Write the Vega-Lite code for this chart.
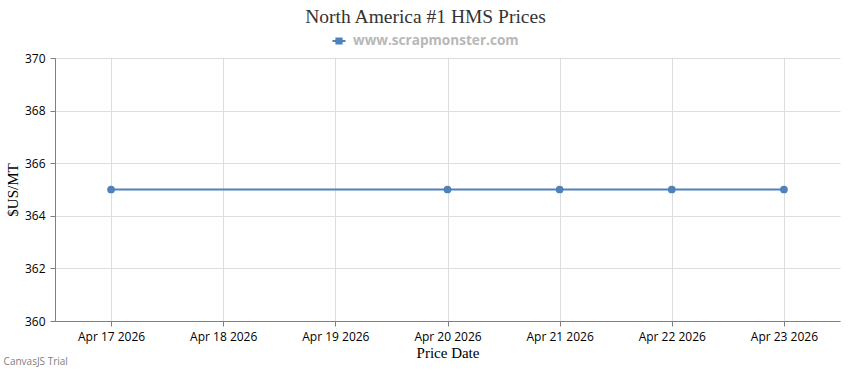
{
  "$schema": "https://vega.github.io/schema/vega-lite/v6.json",
  "width": 785,
  "height": 263,
  "autosize": {"type": "none"},
  "padding": {"left": 55, "top": 58, "right": 10, "bottom": 49},
  "background": "white",
  "title": {
    "text": "North America #1 HMS Prices",
    "font": "Liberation Serif",
    "fontSize": 19.5,
    "fontWeight": "normal",
    "color": "#333333",
    "anchor": "middle",
    "frame": "group",
    "dx": -22,
    "offset": 6
  },
  "datasets": {
    "prices": [
      {"date": "2026-04-17", "price": 365, "series": "www.scrapmonster.com"},
      {"date": "2026-04-20", "price": 365, "series": "www.scrapmonster.com"},
      {"date": "2026-04-21", "price": 365, "series": "www.scrapmonster.com"},
      {"date": "2026-04-22", "price": 365, "series": "www.scrapmonster.com"},
      {"date": "2026-04-23", "price": 365, "series": "www.scrapmonster.com"}
    ],
    "note": [
      {"label": "CanvasJS Trial", "date": "2026-04-16T01:00:00Z", "price": 358.44}
    ]
  },
  "layer": [
    {
      "data": {"name": "prices"},
      "mark": {"type": "line", "strokeWidth": 2, "point": {"filled": true, "size": 60, "opacity": 1}},
      "encoding": {
        "x": {
          "field": "date",
          "type": "temporal",
          "scale": {
            "type": "utc",
            "domain": [
              {"year": 2026, "month": 4, "date": 16, "hours": 12, "utc": true},
              {"year": 2026, "month": 4, "date": 23, "hours": 12, "utc": true}
            ]
          },
          "axis": {
            "title": "Price Date",
            "format": "%b %d %Y",
            "values": [
              {"year": 2026, "month": 4, "date": 17, "utc": true},
              {"year": 2026, "month": 4, "date": 18, "utc": true},
              {"year": 2026, "month": 4, "date": 19, "utc": true},
              {"year": 2026, "month": 4, "date": 20, "utc": true},
              {"year": 2026, "month": 4, "date": 21, "utc": true},
              {"year": 2026, "month": 4, "date": 22, "utc": true},
              {"year": 2026, "month": 4, "date": 23, "utc": true}
            ],
            "labelFlush": false,
            "labelOverlap": false,
            "labelPadding": 5,
            "titlePadding": 3
          }
        },
        "y": {
          "field": "price",
          "type": "quantitative",
          "scale": {"domain": [360, 370], "zero": false, "nice": false},
          "axis": {
            "title": "$US/MT",
            "values": [360, 362, 364, 366, 368, 370],
            "labelPadding": 5,
            "titlePadding": 4
          }
        },
        "color": {
          "field": "series",
          "type": "nominal",
          "scale": {"range": ["#4F81BC"]},
          "legend": {
            "title": null,
            "orient": "none",
            "legendX": 276,
            "legendY": -25,
            "direction": "horizontal",
            "symbolType": "M-1,0H1M-0.4,-0.4H0.4V0.4H-0.4Z",
            "symbolSize": 170,
            "symbolStrokeWidth": 2,
            "symbolFillColor": "#4F81BC",
            "symbolStrokeColor": "#4F81BC",
            "symbolOpacity": 1,
            "labelFont": "Open Sans",
            "labelFontSize": 13.6,
            "labelFontWeight": "bold",
            "labelColor": "#b8b8b8",
            "labelOffset": 6,
            "labelLimit": 0
          }
        }
      }
    },
    {
      "data": {"name": "note"},
      "mark": {"type": "text", "align": "left", "baseline": "middle", "clip": false, "font": "Open Sans", "fontSize": 10, "color": "#808080"},
      "encoding": {
        "x": {"field": "date", "type": "temporal"},
        "y": {"field": "price", "type": "quantitative"},
        "text": {"field": "label"}
      }
    }
  ],
  "config": {
    "view": {"stroke": null},
    "axis": {
      "labelFont": "Open Sans",
      "labelFontSize": 12,
      "labelColor": "#000000",
      "titleFont": "Liberation Serif",
      "titleFontSize": 15,
      "titleFontWeight": "normal",
      "titleColor": "#000000",
      "domainColor": "#808080",
      "domainWidth": 1,
      "tickColor": "#808080",
      "tickSize": 5,
      "gridColor": "#dddddd",
      "grid": true
    }
  }
}
